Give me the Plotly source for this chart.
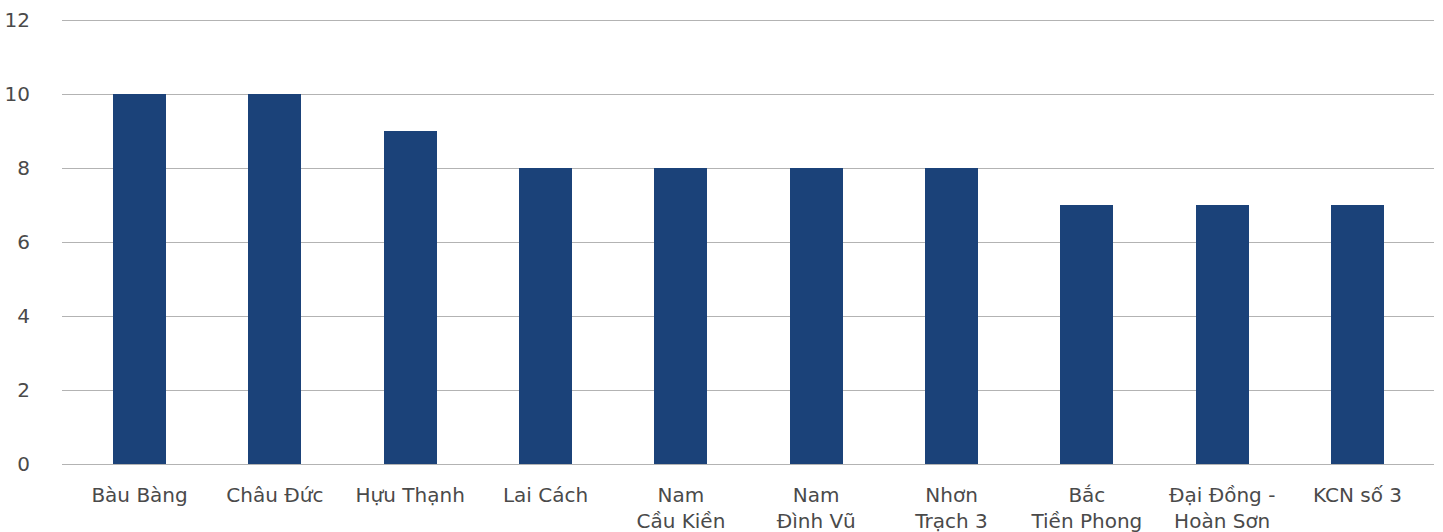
import plotly.graph_objects as go

# Industrial park names (line breaks as shown on the axis)
parks = [
    "Bàu Bàng",
    "Châu Đức",
    "Hựu Thạnh",
    "Lai Cách",
    "Nam<br>Cầu Kiền",
    "Nam<br>Đình Vũ",
    "Nhơn<br>Trạch 3",
    "Bắc<br>Tiền Phong",
    "Đại Đồng -<br>Hoàn Sơn",
    "KCN số 3",
]
values = [10, 10, 9, 8, 8, 8, 8, 7, 7, 7]
y_ticks = [0, 2, 4, 6, 8, 10, 12]

FONT = "DejaVu Sans"
TEXT = "#4a4a4a"
GRID = "#b3b3b3"
BAR = "#1b4279"

fig = go.Figure(
    go.Bar(
        x=list(range(len(parks))),
        y=values,
        marker=dict(color=BAR, line=dict(width=0)),
        width=0.39,
        hoverinfo="skip",
    )
)

fig.update_layout(
    width=1443,
    height=532,
    margin=dict(l=62, r=9, t=19, b=68),
    paper_bgcolor="white",
    plot_bgcolor="white",
    showlegend=False,
    font=dict(family=FONT, size=20, color=TEXT),
    bargap=0,
)

fig.update_xaxes(
    range=[-0.573, 9.565],
    tickmode="array",
    tickvals=list(range(len(parks))),
    ticktext=parks,
    showgrid=False,
    zeroline=False,
    showline=False,
    ticks="",
    automargin=False,
    ticklabelstandoff=17,
    tickfont=dict(family=FONT, size=20, color=TEXT),
)

fig.update_yaxes(
    range=[0, 12.03],
    tickmode="array",
    tickvals=y_ticks,
    ticktext=[str(v) for v in y_ticks],
    showgrid=True,
    gridcolor=GRID,
    gridwidth=1,
    zeroline=True,
    zerolinecolor=GRID,
    zerolinewidth=1,
    showline=False,
    ticks="",
    automargin=False,
    ticklabelstandoff=31,
    tickfont=dict(family=FONT, size=20, color=TEXT),
)

fig.write_html("out.html")
